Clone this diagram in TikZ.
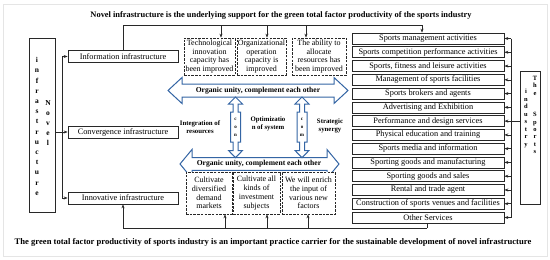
\documentclass[tikz,border=0pt]{standalone}
\usepackage{fontspec}
\setmainfont{Liberation Serif}
\usetikzlibrary{arrows.meta}
\definecolor{arrowblue}{RGB}{52,101,164}
\definecolor{lineg}{RGB}{40,40,40}
\begin{document}
\begin{tikzpicture}[x=1pt,y=-1pt,
  box/.style={draw=lineg, line width=0.7pt, fill=white, inner sep=0pt, font=\fontsize{8.3}{9}\selectfont},
  sbox/.style={box, minimum width=152pt, minimum height=11pt},
  ibox/.style={box, minimum width=110pt, minimum height=12pt},
  dbox/.style={draw=lineg, line width=0.7pt, dash pattern=on 2.5pt off 1.2pt, fill=white, inner sep=0pt, align=center, font=\fontsize{8}{8.8}\selectfont},
  arr/.style={draw=lineg, line width=0.6pt, -{Stealth[length=4pt,width=3pt]}},
  ln/.style={draw=lineg, line width=0.6pt},
  bluearrow/.style={draw=arrowblue, line width=1pt, fill=white, line join=miter},
  btxt/.style={font=\bfseries\fontsize{7.6}{8}\selectfont, inner sep=0pt},
  stxt/.style={font=\bfseries\fontsize{6.8}{8}\selectfont, inner sep=0pt, align=center},
  vtxt/.style={font=\bfseries\fontsize{5}{8}\selectfont, inner sep=0pt, align=center},
  lett/.style={inner sep=0pt, align=center},
]
\useasboundingbox (0,0) rectangle (550,260);
\draw[gray!20, line width=1pt] (3,4) rectangle (547,256);

% titles
\node[font=\bfseries\fontsize{8.4}{9}\selectfont, inner sep=0pt] (title) at (281,15)
  {Novel infrastructure is the underlying support for the green total factor productivity of the sports industry};
\node[font=\bfseries\fontsize{8.6}{9}\selectfont, inner sep=0pt] (foot) at (273,242)
  {The green total factor productivity of sports industry is an important practice carrier for the sustainable development of novel infrastructure};

% left vertical box
\node[box, minimum width=26pt, minimum height=174pt] (lb) at (42,125) {};
\node[lett, font=\bfseries\fontsize{7.5}{10.2}\selectfont] (lbt1) at (37,126.5)
  {i\\n\\f\\r\\a\\s\\t\\r\\u\\c\\t\\u\\r\\e};
\node[lett, font=\bfseries\fontsize{7.5}{10.2}\selectfont] (lbt2) at (48,123)
  {N\\o\\v\\e\\l};

% left infrastructure boxes
\node[ibox] (info) at (123,56.5) {Information infrastructure};
\node[ibox] (conv) at (123,132) {Convergence infrastructure};
\node[ibox] (innov) at (123,198) {Innovative infrastructure};

\coordinate (jl) at (62,0);
\draw[ln] (jl |- info.west) -- (jl |- innov.west);
\draw[arr] (jl |- info.west) -- (info.west);
\draw[arr] (jl |- innov.west) -- (innov.west);
\draw[arr] (lb.east |- conv.west) -- (conv.west);

% sports boxes
\foreach \t [count=\i] in {Sports management activities,
  Sports competition performance activities,
  {Sports, fitness and leisure activities},
  Management of sports facilities,
  Sports brokers and agents,
  Advertising and Exhibition,
  Performance and design services,
  Physical education and training,
  Sports media and information,
  Sporting goods and manufacturing,
  Sporting goods and sales,
  Rental and trade agent,
  Construction of sports venues and facilities,
  Other Services} {
  \node[sbox] (s\i) at (428,{38.5+(\i-1)*13.77}) {\t};
}

% right vertical box
\node[box, minimum width=20pt, minimum height=133pt] (rb) at (530,137.5) {};
\node[lett, font=\bfseries\fontsize{6.5}{7.3}\selectfont, anchor=north] (rbt1) at (535,76)
  {T\\h\\e\\[14.6pt]S\\p\\o\\r\\t\\s};
\node[lett, font=\bfseries\fontsize{6.5}{7.5}\selectfont, anchor=north] (rbt2) at (526,89)
  {i\\n\\d\\u\\s\\t\\r\\y};

\coordinate (jr) at (511,0);
\draw[ln] (jr |- s1.east) -- (jr |- s14.east);
\foreach \i in {1,...,14} { \draw[arr] (jr |- s\i.east) -- (s\i.east); }
\draw[ln] (rb.west |- s7.east) -- (jr |- s7.east);

% blue arrows
\path[bluearrow] (168,90.5) -- (182,77.5) -- (182,84) -- (334,84) -- (334,77.5) -- (348,90.5)
  -- (334,103.5) -- (334,97) -- (182,97) -- (182,103.5) -- cycle;
\path[bluearrow] (180,164) -- (192,149.5) -- (192,157.7) -- (327,157.7) -- (327,149.5) -- (339,164)
  -- (327,178.5) -- (327,170.3) -- (192,170.3) -- (192,178.5) -- cycle;
\foreach \cx in {235.5,302} {
  \path[bluearrow] (\cx,97) -- ({\cx+7},104) -- ({\cx+2.5},104) -- ({\cx+2.5},112) -- ({\cx+5},112)
    -- ({\cx+5},142) -- ({\cx+2.5},142) -- ({\cx+2.5},150.5) -- ({\cx+7},150.5) -- (\cx,157.7)
    -- ({\cx-7},150.5) -- ({\cx-2.5},150.5) -- ({\cx-2.5},142) -- ({\cx-5},142) -- ({\cx-5},112)
    -- ({\cx-2.5},112) -- ({\cx-2.5},104) -- ({\cx-7},104) -- cycle;
}
\node[btxt] (ou1) at (258,90.5) {Organic unity, complement each other};
\node[btxt] (ou2) at (259,164) {Organic unity, complement each other};
\node[vtxt] (v1) at (235.5,127) {c\\o\\n};
\node[vtxt] (v2) at (302,127) {c\\o\\m};
\node[stxt] (ir) at (200,127) {Integration of\\resources};
\node[stxt] (os) at (268,124) {Optimizatio\\n of system};
\node[stxt] (sg) at (330,126) {Strategic\\synergy};

% dashed boxes top
\node[dbox, minimum width=51pt, minimum height=37pt] (d1) at (209.5,56.5)
  {Technological\\innovation\\capacity has\\been improved};
\node[dbox, minimum width=49pt, minimum height=37pt] (d2) at (261.5,56.5)
  {Organizational\\operation\\capacity is\\improved};
\node[dbox, minimum width=54pt, minimum height=37pt] (d3) at (319,56.5)
  {The ability to\\allocate\\resources has\\been improved};

% dashed boxes bottom
\node[dbox, minimum width=46pt, minimum height=42pt] (e1) at (209,193)
  {Cultivate\\diversified\\demand\\markets};
\node[dbox, minimum width=47pt, minimum height=42pt] (e2) at (256.5,193)
  {Cultivate all\\kinds of\\investment\\subjects};
\node[dbox, minimum width=53pt, minimum height=42pt] (e3) at (308.5,193)
  {We will enrich\\the input of\\various new\\factors};

% top connector
\coordinate (tr) at (422,25);
\draw[ln] (info.north) |- (tr);
\draw[arr] (tr) -- (tr |- s1.north);
\coordinate (ta1) at (221,25);
\coordinate (ta2) at (267,25);
\coordinate (ta3) at (306,25);
\draw[arr] (ta1) -- (ta1 |- d1.north);
\draw[arr] (ta2) -- (ta2 |- d2.north);
\draw[arr] (ta3) -- (ta3 |- d3.north);

% bottom connector
\coordinate (br) at (427,228);
\draw[ln] (br |- s14.south) -- (br);
\draw[arr] (br) -| (innov.south);
\coordinate (ba1) at (225,228);
\coordinate (ba2) at (267,228);
\coordinate (ba3) at (308,228);
\draw[arr] (ba1) -- (ba1 |- e1.south);
\draw[arr] (ba2) -- (ba2 |- e2.south);
\draw[arr] (ba3) -- (ba3 |- e3.south);
\end{tikzpicture}
\end{document}
